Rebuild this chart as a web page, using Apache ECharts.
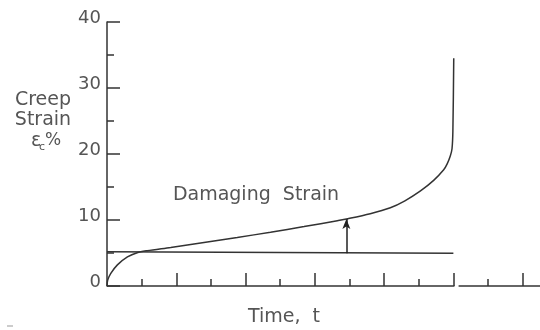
<!DOCTYPE html>
<html><head><meta charset="utf-8">
<script src="https://cdn.jsdelivr.net/npm/echarts@6/dist/echarts.min.js"></script>
<style>html,body{margin:0;padding:0;background:#fff}#c{width:540px;height:330px}</style>
</head><body><div id="c"></div>
<script>
// Creep curve (time in tick units, strain %)
const curveT = [0, 0.02, 0.11, 0.30, 0.59, 0.87, 1.16, 1.84, 2.80, 3.76, 4.72, 5.69, 6.65, 6.91, 7.60, 8.18, 8.60, 9.05, 9.43, 9.72, 9.82, 9.91, 9.96, 9.985, 10.01];
const curveStrain = [0, 0.9, 1.9, 3.2, 4.4, 5.05, 5.35, 5.85, 6.6, 7.35, 8.15, 9.0, 9.9, 10.15, 10.95, 11.85, 12.9, 14.4, 16.0, 17.6, 18.5, 19.7, 20.8, 23.5, 34.5];
// Reference (initial) strain line
const baseT = [0, 10];
const baseStrain = [5.2, 4.95];
// Damaging strain arrow
const arrowT = 6.91;
const arrowFrom = 4.98;
const arrowTo = 10.15;
// Axis ticks
const yMin = 0, yMax = 40, yStep = 10;
const xMin = 0, xMax = 12.5;
const xMajorTicks = [2, 4, 6, 8, 10, 12];
const xMinorTicks = [1, 3, 5, 7, 9, 11];
const xAxisSegA = [0, 10.03];
const xAxisSegB = [10.15, 12.5];
// Texts
const yTitleLines = ['Creep', 'Strain'];
const annotation = 'Damaging  Strain';
const xTitle = 'Time,  t';

const FONT = 'DejaVu Sans';
const TXT = '#555';
const LN = '#333';

const chart = echarts.init(document.getElementById('c'));
const zip = (a, b) => a.map((v, i) => [v, b[i]]);

chart.setOption({
  animation: false,
  backgroundColor: '#fff',
  grid: { left: 107, right: 0, top: 22, bottom: 44, containLabel: false },
  xAxis: [
    { type: 'value', min: xMin, max: xMax, position: 'bottom',
      axisLine: { show: false }, splitLine: { show: false },
      axisLabel: { show: false },
      axisTick: { show: true, inside: true, length: 13, customValues: xMajorTicks,
        lineStyle: { color: LN, width: 1.5 } } },
    { type: 'value', min: xMin, max: xMax, position: 'bottom', offset: 0,
      axisLine: { show: false }, splitLine: { show: false },
      axisLabel: { show: false },
      axisTick: { show: true, inside: true, length: 7, customValues: xMinorTicks,
        lineStyle: { color: LN, width: 1.5 } } }
  ],
  yAxis: {
    type: 'value', min: yMin, max: yMax, interval: yStep,
    axisLine: { show: true, lineStyle: { color: LN, width: 1.5 } },
    splitLine: { show: false },
    axisTick: { show: true, inside: true, length: 13, lineStyle: { color: LN, width: 1.5 } },
    minorTick: { show: true, splitNumber: 2, length: 7, lineStyle: { color: LN, width: 1.5 } },
    axisLabel: { fontFamily: FONT, fontSize: 18, color: TXT, margin: 6, verticalAlign: 'bottom', lineHeight: 7 }
  },
  series: [
    { type: 'line', xAxisIndex: 0, data: zip(xAxisSegA, [0, 0]), symbol: 'none', clip: false,
      lineStyle: { color: LN, width: 1.5 }, silent: true },
    { type: 'line', xAxisIndex: 0, data: zip(xAxisSegB, [0, 0]), symbol: 'none', clip: false,
      lineStyle: { color: LN, width: 1.5 }, silent: true },
    { type: 'line', xAxisIndex: 0, data: zip(baseT, baseStrain), symbol: 'none',
      lineStyle: { color: LN, width: 1.5 }, silent: true,
      markLine: { silent: true, symbol: ['none', 'arrow'], symbolSize: [6, 10],
        label: { show: false }, lineStyle: { color: '#222', width: 1.5, type: 'solid' },
        data: [[{ coord: [arrowT, arrowFrom] }, { coord: [arrowT, arrowTo] }]] } },
    { type: 'line', xAxisIndex: 0, data: zip(curveT, curveStrain), symbol: 'none',
      smooth: 0.3, clip: false,
      lineStyle: { color: LN, width: 1.5 }, silent: true }
  ],
  graphic: [
    { type: 'text', style: { x: 43, y: 100, text: yTitleLines[0], font: '19px ' + FONT, fill: TXT, align: 'center', verticalAlign: 'middle' } },
    { type: 'text', style: { x: 43, y: 120, text: yTitleLines[1], font: '19px ' + FONT, fill: TXT, align: 'center', verticalAlign: 'middle' } },
    { type: 'text', style: { x: 31, y: 141, text: 'ε', font: '19px ' + FONT, fill: TXT, align: 'left', verticalAlign: 'middle' } },
    { type: 'text', style: { x: 39, y: 147, text: 'c', font: '11px ' + FONT, fill: TXT, align: 'left', verticalAlign: 'middle' } },
    { type: 'text', style: { x: 45, y: 141, text: '%', font: '17px ' + FONT, fill: TXT, align: 'left', verticalAlign: 'middle' } },
    { type: 'text', style: { x: 256, y: 195, text: annotation, font: '19px ' + FONT, fill: TXT, align: 'center', verticalAlign: 'middle' } },
    { type: 'text', style: { x: 284, y: 317, text: xTitle, font: '19px ' + FONT, fill: TXT, align: 'center', verticalAlign: 'middle' } },
    { type: 'rect', shape: { x: 7, y: 325, width: 6, height: 2 }, style: { fill: '#ccc' } }
  ]
});
</script></body></html>
